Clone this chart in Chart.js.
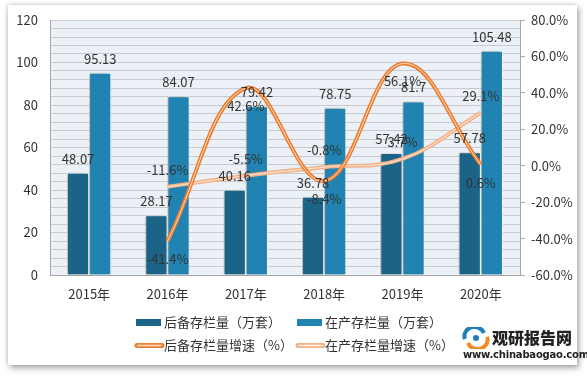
<!DOCTYPE html>
<html>
<head>
<meta charset="utf-8">
<script src="https://cdn.jsdelivr.net/npm/chart.js@4"></script>
<style>
  html, body { margin:0; padding:0; background:#ffffff; }
  #wrap { position:relative; width:587px; height:378px; overflow:hidden; }
  #panel { position:absolute; left:8px; top:5px; width:569px; height:360px; background:#fff;
           box-shadow: 2px 3px 6px rgba(0,0,0,0.35), -1px -1px 4px rgba(0,0,0,0.15); }
  #c { position:absolute; left:0; top:0; }
  #logo { position:absolute; left:462px; top:327px; width:115px; height:34px; font-family:'Noto Sans CJK SC', sans-serif; }
  #logo .t1 { position:absolute; left:30px; top:-2px; font-size:16px; font-weight:900; color:#222; white-space:nowrap; }
  #logo .t2 { position:absolute; left:1px; top:22px; font-size:10px; font-weight:700; color:#222; white-space:nowrap; font-family:'DejaVu Sans', sans-serif; letter-spacing:-0.2px; }
  #logo svg { position:absolute; left:0; top:0; }
</style>
</head>
<body>
<div id="wrap">
  <div id="panel"></div>
  <canvas id="c" width="587" height="378"></canvas>
  <div id="logo">
    <svg width="28" height="22" viewBox="0 0 28 22">
      <path d="M3 12 A10 9 0 0 1 22 6" stroke="#1E7FB8" stroke-width="4" fill="none"/>
      <path d="M25 10 A10 9 0 0 1 6 16" stroke="#F08A24" stroke-width="4" fill="none"/>
      <circle cx="14" cy="11" r="3" fill="#1E7FB8"/>
    </svg>
    <div class="t1">观研报告网</div>
    <div class="t2">www.chinabaogao.com</div>
  </div>
</div>
<script>
const categories = ['2015年', '2016年', '2017年', '2018年', '2019年', '2020年'];
const reserveStock = [48.07, 28.17, 40.16, 36.78, 57.42, 57.78];        // 后备存栏量（万套）
const productionStock = [95.13, 84.07, 79.42, 78.75, 81.7, 105.48];     // 在产存栏量（万套）
const reserveGrowth = [null, -41.4, 42.6, -8.4, 56.1, 0.6];             // 后备存栏量增速（%）
const productionGrowth = [null, -11.6, -5.5, -0.8, 3.7, 29.1];          // 在产存栏量增速（%）
const leftTicks = [0, 20, 40, 60, 80, 100, 120];
const rightTicks = [-60, -40, -20, 0, 20, 40, 60, 80];

const FONT = "'Noto Sans CJK SC', 'Microsoft YaHei', sans-serif";
const TXT = '#333333';
const AXIS = '#A6A6A6';

const bgPlugin = {
  id: 'plotBg',
  beforeDraw(chart) {
    const {ctx, chartArea: a} = chart;
    ctx.save();
    ctx.fillStyle = '#EBF1F7';
    ctx.fillRect(a.left, a.top, a.right - a.left, a.bottom - a.top);
    ctx.restore();
  }
};

const shadowPlugin = {
  id: 'barShadow',
  beforeDatasetDraw(chart, args) {
    if (chart.data.datasets[args.index].type === 'bar') {
      const ctx = chart.ctx;
      ctx.save();
      ctx.shadowColor = 'rgba(0,0,0,0.35)';
      ctx.shadowBlur = 4;
      ctx.shadowOffsetX = -2;
      ctx.shadowOffsetY = 0;
    }
  },
  afterDatasetDraw(chart, args) {
    if (chart.data.datasets[args.index].type === 'bar') chart.ctx.restore();
  }
};

const labelPlugin = {
  id: 'valueLabels',
  afterDatasetsDraw(chart) {
    const ctx = chart.ctx;
    ctx.save();
    ctx.font = '13px ' + FONT;
    ctx.fillStyle = TXT;
    ctx.textAlign = 'center';
    ctx.textBaseline = 'middle';
    chart.data.datasets.forEach((ds, i) => {
      if (!ds.labelMode) return;
      const meta = chart.getDatasetMeta(i);
      meta.data.forEach((el, j) => {
        const v = ds.data[j];
        if (v === null || v === undefined) return;
        let txt, y;
        if (ds.labelMode === 'bar') { txt = String(v); y = el.y - 14; }
        else if (ds.labelMode === 'below') { txt = v.toFixed(1) + '%'; y = el.y + 18; }
        else { txt = v.toFixed(1) + '%'; y = el.y - 17; }
        ctx.fillText(txt, el.x, y);
      });
    });
    ctx.restore();
  }
};

// legend: two rows of two entries, built from dataset labels/colours
const legendRows = [[4, 5], [1, 3]];
const legendPlugin = {
  id: 'gridLegend',
  afterDraw(chart) {
    const ctx = chart.ctx;
    const colX = [136, 297];
    const rowY = [322.5, 345.5];
    ctx.save();
    ctx.font = '13px ' + FONT;
    ctx.textBaseline = 'middle';
    ctx.textAlign = 'left';
    legendRows.forEach((row, r) => {
      row.forEach((dsIndex, c) => {
        const ds = chart.data.datasets[dsIndex];
        const x = colX[c], y = rowY[r];
        if (ds.type === 'bar') {
          ctx.fillStyle = ds.backgroundColor;
          ctx.fillRect(x, y - 3.5, 25, 7);
        } else {
          ctx.lineCap = 'round';
          ctx.strokeStyle = ds.borderColor;
          ctx.lineWidth = 5;
          ctx.beginPath(); ctx.moveTo(x + 1, y); ctx.lineTo(x + 26, y); ctx.stroke();
          ctx.strokeStyle = ds.legCenter;
          ctx.lineWidth = 1.5;
          ctx.beginPath(); ctx.moveTo(x + 2, y); ctx.lineTo(x + 25, y); ctx.stroke();
        }
        ctx.fillStyle = TXT;
        ctx.fillText(ds.label, x + 28, y);
      });
    });
    ctx.restore();
  }
};

const data = {
  labels: categories,
  datasets: [
    { type:'line', label:'后备存栏量增速（%）', data: reserveGrowth, yAxisID:'y2',
      borderColor:'rgba(253,224,200,0.95)', borderWidth:1, pointRadius:0, tension:0.4, fill:false, order:1 },
    { type:'line', label:'后备存栏量增速（%）', data: reserveGrowth, yAxisID:'y2',
      borderColor:'#ED7D31', borderWidth:4, pointRadius:0, tension:0.4, fill:false, order:2,
      labelMode:'below', legCenter:'#FCE0C8' },
    { type:'line', label:'在产存栏量增速（%）', data: productionGrowth, yAxisID:'y2',
      borderColor:'rgba(254,238,226,0.95)', borderWidth:1, pointRadius:0, tension:0.4, fill:false, order:3 },
    { type:'line', label:'在产存栏量增速（%）', data: productionGrowth, yAxisID:'y2',
      borderColor:'#F5B084', borderWidth:4, pointRadius:0, tension:0.4, fill:false, order:4,
      labelMode:'above', legCenter:'#FEF1E7' },
    { type:'bar', label:'后备存栏量（万套）', data: reserveStock, yAxisID:'y',
      backgroundColor:'#1B6487', borderColor:'#ffffff', borderWidth:1, order:10,
      categoryPercentage:0.565, barPercentage:1.0, labelMode:'bar' },
    { type:'bar', label:'在产存栏量（万套）', data: productionStock, yAxisID:'y',
      backgroundColor:'#2083B1', borderColor:'#ffffff', borderWidth:1, order:11,
      categoryPercentage:0.565, barPercentage:1.0, labelMode:'bar' }
  ]
};

new Chart(document.getElementById('c'), {
  data,
  plugins: [bgPlugin, shadowPlugin, labelPlugin, legendPlugin],
  options: {
    responsive:false,
    animation:false,
    layout: { padding: { top:20, left:0, right:0, bottom:72.5 } },
    plugins: {
      tooltip: { enabled:false },
      legend: { display:false }
    },
    scales: {
      x: {
        type:'category',
        offset:true,
        grid: { display:false, drawTicks:false },
        border: { color:AXIS },
        ticks: { color:TXT, font:{ size:13, family:FONT }, padding:11 },
        afterFit(s) { s.height = 30.5; }
      },
      y: {
        position:'left',
        min:0, max:120,
        grid: { color:'#C7CACE', drawTicks:false },
        border: { color:AXIS },
        ticks: {
          stepSize:4, autoSkip:false, color:TXT, font:{ size:13, family:FONT }, padding:12,
          callback: v => leftTicks.includes(v) ? String(v) : ''
        },
        afterFit(s) { s.width = 50; }
      },
      y2: {
        position:'right',
        min:-60, max:80,
        grid: { drawOnChartArea:false, drawTicks:true, tickLength:5, color:AXIS },
        border: { color:AXIS },
        ticks: {
          stepSize:20, color:TXT, font:{ size:13, family:FONT }, padding:6,
          callback: v => rightTicks.includes(v) ? v.toFixed(1) + '%' : ''
        },
        afterFit(s) { s.width = 67; }
      }
    }
  }
});
</script>
</body>
</html>
